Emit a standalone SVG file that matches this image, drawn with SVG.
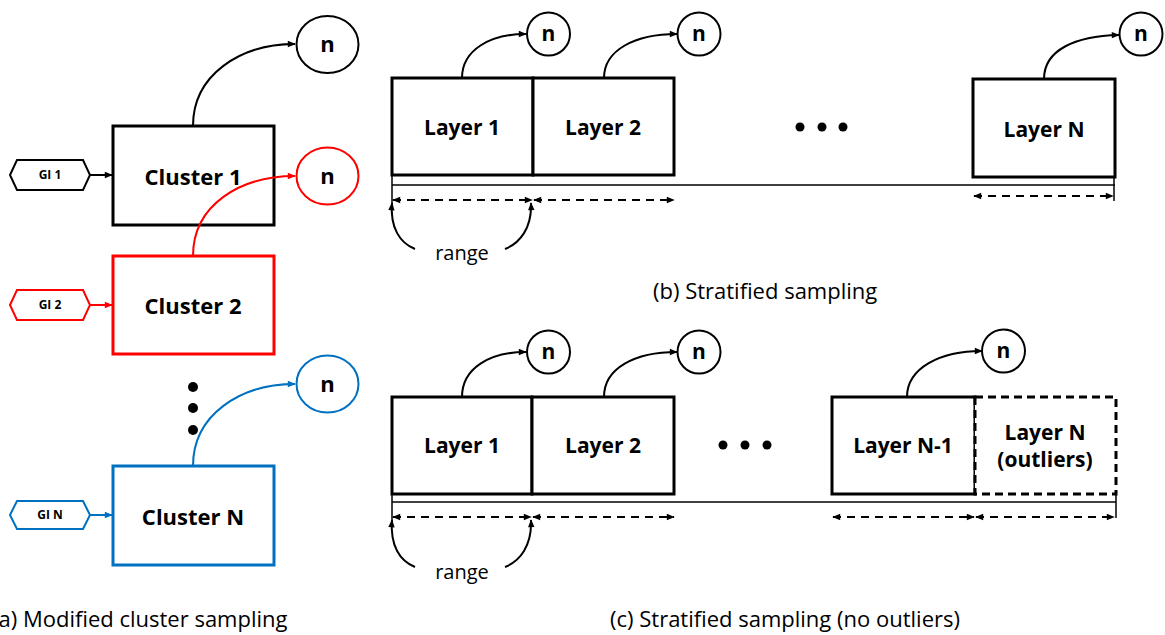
<svg xmlns="http://www.w3.org/2000/svg" width="1165" height="635" viewBox="0 0 1165 635">
  <defs>
    <marker id="ahk" viewBox="0 0 10 10" refX="9" refY="5" markerWidth="9" markerHeight="8" markerUnits="userSpaceOnUse" orient="auto">
      <path d="M0,1 L10,5 L0,9 Z" fill="#000"/>
    </marker>
    <marker id="ahr" viewBox="0 0 10 10" refX="9" refY="5" markerWidth="9" markerHeight="8" markerUnits="userSpaceOnUse" orient="auto">
      <path d="M0,1 L10,5 L0,9 Z" fill="#ff0000"/>
    </marker>
    <marker id="ahb" viewBox="0 0 10 10" refX="9" refY="5" markerWidth="9" markerHeight="8" markerUnits="userSpaceOnUse" orient="auto">
      <path d="M0,1 L10,5 L0,9 Z" fill="#0070c0"/>
    </marker>
    <marker id="ahks" viewBox="0 0 10 10" refX="1" refY="5" markerWidth="9" markerHeight="8" markerUnits="userSpaceOnUse" orient="auto">
      <path d="M10,1 L0,5 L10,9 Z" fill="#000"/>
    </marker>
  </defs>
  <style>
    text { font-family: "Open Sans", "Noto Sans", "Liberation Sans", sans-serif; fill: #000; }
    .lbl { font-size: 21px; font-weight: bold; text-anchor: middle; }
    .big { font-size: 22px; }
    .gi { font-size: 12px; font-weight: bold; text-anchor: middle; }
    .cap { font-size: 22px; }
    .rng { font-size: 20px; text-anchor: middle; }
    .box { fill: #fff; stroke: #000; stroke-width: 3; }
    .dbox { fill: #fff; stroke: #000; stroke-width: 3; stroke-dasharray: 8 5; }
    .circ { fill: #fff; stroke: #000; stroke-width: 2; }
    .edge { fill: none; stroke: #000; stroke-width: 2; }
    .base { fill: none; stroke: #000; stroke-width: 1.5; }
    .dash { fill: none; stroke: #000; stroke-width: 2; stroke-dasharray: 8 6; }
    .red { stroke: #ff0000; }
    .blue { stroke: #0070c0; }
  </style>

  <!-- (a) cluster nodes -->
  <g id="gi1">
    <polygon class="circ" points="10,175 17,160 83,160 90,175 83,190 17,190"/>
    <text class="gi" x="50" y="179">GI 1</text>
  </g>
  <g id="gi2">
    <polygon class="circ red" points="10,305 17,290 83,290 90,305 83,320 17,320"/>
    <text class="gi" x="50" y="309">GI 2</text>
  </g>
  <g id="gin">
    <polygon class="circ blue" points="10,515 17,501 83,501 90,515 83,529 17,529"/>
    <text class="gi" x="50" y="519">GI N</text>
  </g>
  <g id="cluster1">
    <rect class="box" x="113" y="126" width="161" height="99"/>
    <text class="lbl big" x="193" y="185">Cluster 1</text>
  </g>
  <g id="cluster2">
    <rect class="box red" x="113" y="256" width="161" height="98"/>
    <text class="lbl big" x="193" y="314">Cluster 2</text>
  </g>
  <g id="clusterN">
    <rect class="box blue" x="113" y="466" width="161" height="99"/>
    <text class="lbl big" x="193" y="525">Cluster N</text>
  </g>
  <g id="n-c1">
    <ellipse class="circ" cx="327.5" cy="44.5" rx="31" ry="28.5"/>
    <text class="lbl big" x="327.5" y="52">n</text>
  </g>
  <g id="n-c2">
    <ellipse class="circ red" cx="327.5" cy="176" rx="31" ry="28.5"/>
    <text class="lbl big" x="327.5" y="184">n</text>
  </g>
  <g id="n-cN">
    <ellipse class="circ blue" cx="327.5" cy="384" rx="31" ry="28.5"/>
    <text class="lbl big" x="327.5" y="392">n</text>
  </g>
  <g id="cluster-dots">
    <circle cx="193" cy="387" r="5"/>
    <circle cx="193" cy="408" r="5"/>
    <circle cx="193" cy="430" r="5"/>
  </g>

  <!-- (b) layer nodes -->
  <g id="b-layer1">
    <rect class="box" x="392" y="78" width="141" height="97"/>
    <text class="lbl" x="462" y="135">Layer 1</text>
  </g>
  <g id="b-layer2">
    <rect class="box" x="533" y="78" width="141" height="97"/>
    <text class="lbl" x="603" y="135">Layer 2</text>
  </g>
  <g id="b-layerN">
    <rect class="box" x="973" y="79" width="142" height="98"/>
    <text class="lbl" x="1044" y="137">Layer N</text>
  </g>
  <g id="b-n1">
    <circle class="circ" cx="548.5" cy="34" r="21.5"/>
    <text class="lbl" x="548.5" y="41">n</text>
  </g>
  <g id="b-n2">
    <circle class="circ" cx="699" cy="34" r="21.5"/>
    <text class="lbl" x="699" y="41">n</text>
  </g>
  <g id="b-nN">
    <circle class="circ" cx="1141" cy="34" r="21.5"/>
    <text class="lbl" x="1141" y="41">n</text>
  </g>
  <g id="b-dots">
    <circle cx="800" cy="127" r="4.5"/>
    <circle cx="822" cy="127" r="4.5"/>
    <circle cx="843" cy="127" r="4.5"/>
  </g>
  <text class="rng" x="462" y="260">range</text>

  <!-- (c) layer nodes -->
  <g id="c-layer1">
    <rect class="box" x="392" y="397" width="140" height="97"/>
    <text class="lbl" x="462" y="453">Layer 1</text>
  </g>
  <g id="c-layer2">
    <rect class="box" x="532" y="397" width="142" height="97"/>
    <text class="lbl" x="603" y="453">Layer 2</text>
  </g>
  <g id="c-layerN1">
    <rect class="box" x="832" y="397" width="143" height="97"/>
    <text class="lbl" x="903" y="453">Layer N-1</text>
  </g>
  <g id="c-layerN">
    <rect class="dbox" x="975" y="397" width="141" height="97"/>
    <text class="lbl" x="1045" y="440">Layer N</text>
    <text class="lbl" x="1045" y="467">(outliers)</text>
  </g>
  <g id="c-n1">
    <circle class="circ" cx="548.5" cy="352" r="21.5"/>
    <text class="lbl" x="548.5" y="359">n</text>
  </g>
  <g id="c-n2">
    <circle class="circ" cx="699" cy="352" r="21.5"/>
    <text class="lbl" x="699" y="359">n</text>
  </g>
  <g id="c-nN1">
    <circle class="circ" cx="1003.5" cy="351" r="21.5"/>
    <text class="lbl" x="1003.5" y="358">n</text>
  </g>
  <g id="c-dots">
    <circle cx="723" cy="445" r="4.5"/>
    <circle cx="745" cy="445" r="4.5"/>
    <circle cx="767" cy="445" r="4.5"/>
  </g>
  <text class="rng" x="462" y="579">range</text>

  <!-- connectors, drawn above the boxes so the red curve crosses Cluster 1 -->
  <g id="connectors">
    <!-- (a) cluster sampling -->
    <path class="edge" d="M193,126 C193,75 240,44 295,44" marker-end="url(#ahk)"/>
    <path class="edge red" d="M193,256 C193,205 240,176 295,176" marker-end="url(#ahr)"/>
    <path class="edge blue" d="M193,466 C193,415 240,384 295,384" marker-end="url(#ahb)"/>
    <line class="edge" x1="90" y1="175" x2="112" y2="175" marker-end="url(#ahk)"/>
    <line class="edge red" x1="90" y1="305" x2="112" y2="305" marker-end="url(#ahr)"/>
    <line class="edge blue" x1="90" y1="515" x2="112" y2="515" marker-end="url(#ahb)"/>

    <!-- (b) stratified sampling -->
    <path class="edge" d="M462,78 C462,50 490,34 526,34" marker-end="url(#ahk)"/>
    <path class="edge" d="M604,78 C604,50 635,34 677,34" marker-end="url(#ahk)"/>
    <path class="edge" d="M1044,79 C1044,50 1075,36 1119,35" marker-end="url(#ahk)"/>
    <line class="base" x1="392" y1="185" x2="1115" y2="185"/>
    <line class="base" x1="392" y1="175" x2="392" y2="203"/>
    <line class="base" x1="1114" y1="177" x2="1114" y2="201"/>
    <line class="dash" x1="393" y1="200" x2="532" y2="200" marker-start="url(#ahks)" marker-end="url(#ahk)"/>
    <line class="dash" x1="534" y1="200" x2="674" y2="200" marker-start="url(#ahks)" marker-end="url(#ahk)"/>
    <line class="dash" x1="974" y1="196" x2="1113" y2="196" marker-start="url(#ahks)" marker-end="url(#ahk)"/>
    <path class="edge" d="M415,249 C400,243 390,228 392,203" marker-end="url(#ahk)"/>
    <path class="edge" d="M505,249 C520,243 532,228 531,203" marker-end="url(#ahk)"/>

    <!-- (c) stratified sampling, no outliers -->
    <path class="edge" d="M462,397 C462,368 490,352 526,352" marker-end="url(#ahk)"/>
    <path class="edge" d="M604,397 C604,368 635,352 677,352" marker-end="url(#ahk)"/>
    <path class="edge" d="M907,397 C907,368 940,351 982,351" marker-end="url(#ahk)"/>
    <line class="base" x1="392" y1="502" x2="1116" y2="502"/>
    <line class="base" x1="392" y1="494" x2="392" y2="520"/>
    <line class="base" x1="1116" y1="494" x2="1116" y2="518"/>
    <line class="dash" x1="393" y1="517" x2="531" y2="517" marker-start="url(#ahks)" marker-end="url(#ahk)"/>
    <line class="dash" x1="533" y1="517" x2="674" y2="517" marker-start="url(#ahks)" marker-end="url(#ahk)"/>
    <line class="dash" x1="833" y1="517" x2="974" y2="517" marker-start="url(#ahks)" marker-end="url(#ahk)"/>
    <line class="dash" x1="976" y1="517" x2="1114" y2="517" marker-start="url(#ahks)" marker-end="url(#ahk)"/>
    <path class="edge" d="M415,567 C400,561 390,546 392,520" marker-end="url(#ahk)"/>
    <path class="edge" d="M505,567 C520,561 532,546 531,520" marker-end="url(#ahk)"/>
  </g>

  <!-- captions -->
  <text class="cap" x="-8" y="627">(a) Modified cluster sampling</text>
  <text class="cap" x="653" y="299">(b) Stratified sampling</text>
  <text class="cap" x="610" y="627">(c) Stratified sampling (no outliers)</text>
</svg>
